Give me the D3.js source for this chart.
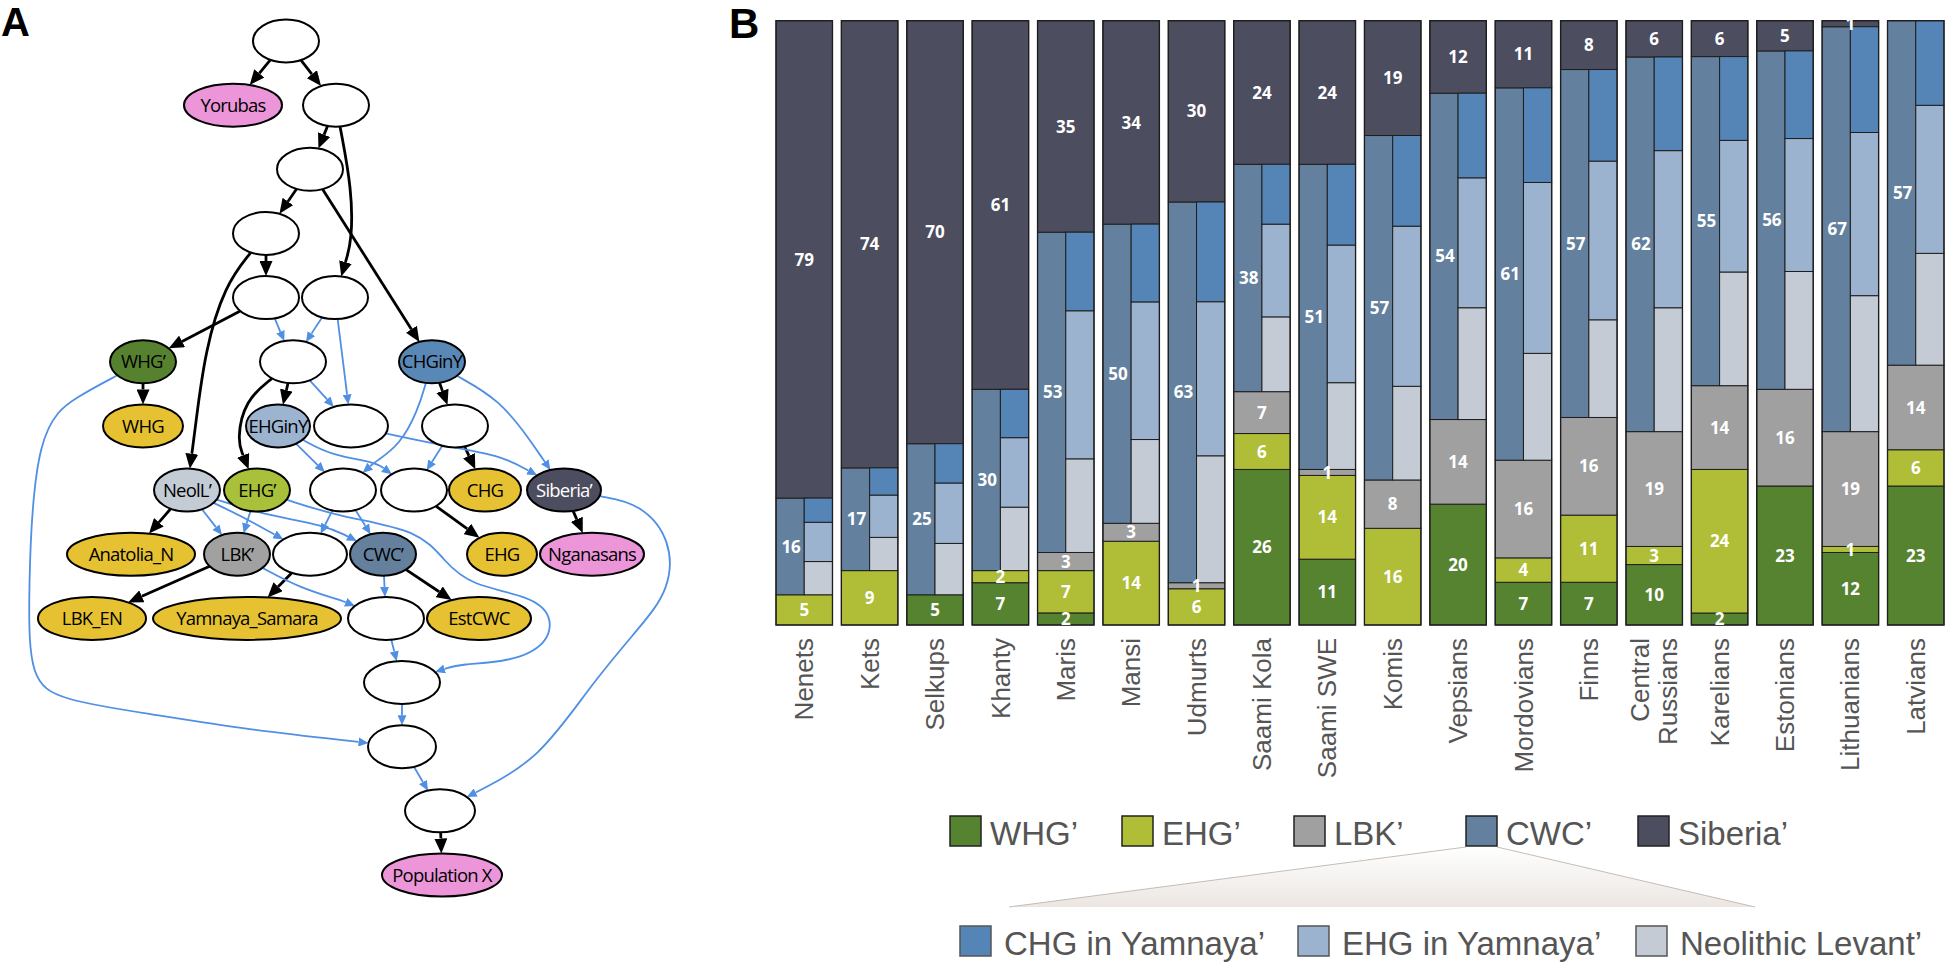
<!DOCTYPE html>
<html>
<head>
<meta charset="utf-8">
<script src="https://cdn.jsdelivr.net/npm/d3@7"></script>
<style>
body { margin: 0; background: #fff; }
</style>
</head>
<body>
<div id="chart"></div>
<script>
var svgWidth = 1945;
var svgHeight = 964;

// ---- Panel B data ----
var populations = ["Nenets", "Kets", "Selkups", "Khanty", "Maris", "Mansi", "Udmurts", "Saami Kola", "Saami SWE",
  "Komis", "Vepsians", "Mordovians", "Finns", "Central Russians", "Karelians", "Estonians", "Lithuanians", "Latvians"];
var tickLabels = ["Nenets", "Kets", "Selkups", "Khanty", "Maris", "Mansi", "Udmurts", "Saami Kola", "Saami SWE",
  "Komis", "Vepsians", "Mordovians", "Finns", "Central\nRussians", "Karelians", "Estonians", "Lithuanians", "Latvians"];
var whg     = [0, 0, 5, 7, 2, 0, 0, 26, 11, 0, 20, 7, 7, 10, 2, 23, 12, 23];
var ehg     = [5, 9, 0, 2, 7, 14, 6, 6, 14, 16, 0, 4, 11, 3, 24, 0, 1, 6];
var lbk     = [0, 0, 0, 0, 3, 3, 1, 7, 1, 8, 14, 16, 16, 19, 14, 16, 19, 14];
var cwc     = [16, 17, 25, 30, 53, 50, 63, 38, 51, 57, 54, 61, 57, 62, 55, 56, 67, 57];
var siberia = [79, 74, 70, 61, 35, 34, 30, 24, 24, 19, 12, 11, 8, 6, 6, 5, 1, 0];
// split of the CWC' share
var chgY = [4, 4.5, 6.5, 8, 13, 13, 16.5, 10, 13.5, 15, 14, 15.5, 15, 15.5, 14, 14.5, 17.5, 14];
var ehgY = [6.5, 7, 10, 11.5, 24.5, 23, 25.5, 15.5, 23, 26.5, 21.5, 28, 26, 26, 22, 22, 27, 24.5];
var neoL = [5.5, 5.5, 8.5, 10.5, 15.5, 14, 21, 12.5, 14.5, 15.5, 18.5, 17.5, 16, 20.5, 19, 19.5, 22.5, 18.5];

var legendMain = ["WHG’", "EHG’", "LBK’", "CWC’", "Siberia’"];
var legendSub = ["CHG in Yamnaya’", "EHG in Yamnaya’", "Neolithic Levant’"];

// ---- Panel A graph ----
// id, label, row, x, kind, half width
var graphNodes = [
  ["t0", "", 0, 286, "blank", 33],
  ["yor", "Yorubas", 1, 233, "pink", 49],
  ["n1", "", 1, 336, "blank", 33],
  ["n2", "", 2, 310, "blank", 33],
  ["n3", "", 3, 266, "blank", 33],
  ["n4", "", 4, 266, "blank", 33],
  ["n5", "", 4, 335, "blank", 33],
  ["whgp", "WHG’", 5, 143, "whg", 33],
  ["n6", "", 5, 293, "blank", 33],
  ["chgy", "CHGinY", 5, 432, "chgy", 33],
  ["whg", "WHG", 6, 143, "yellow", 40],
  ["ehgy", "EHGinY", 6, 278, "ehgy", 32],
  ["n7", "", 6, 351, "blank", 37],
  ["n8", "", 6, 455, "blank", 33],
  ["neol", "NeolL’", 7, 187, "neol", 33],
  ["ehgp", "EHG’", 7, 257, "ehg", 33],
  ["n9", "", 7, 343, "blank", 33],
  ["n10", "", 7, 414, "blank", 33],
  ["chg", "CHG", 7, 485, "yellow", 36],
  ["sib", "Siberia’", 7, 564, "sib", 37],
  ["ana", "Anatolia_N", 8, 131, "yellow", 64],
  ["lbkp", "LBK’", 8, 237, "lbk", 33],
  ["n11", "", 8, 310, "blank", 37],
  ["cwcp", "CWC’", 8, 383, "cwc", 33],
  ["ehg", "EHG", 8, 502, "yellow", 35],
  ["nga", "Nganasans", 8, 592, "pink", 52],
  ["lbken", "LBK_EN", 9, 92, "yellow", 54],
  ["yam", "Yamnaya_Samara", 9, 247, "yellow", 94],
  ["n12", "", 9, 386, "blank", 38],
  ["est", "EstCWC", 9, 479, "yellow", 52],
  ["n13", "", 10, 402, "blank", 38],
  ["n14", "", 11, 402, "blank", 34],
  ["n15", "", 12, 440, "blank", 35],
  ["popx", "Population X", 13, 442, "pink", 60]
];

// from, to, type (d = drift, a = admixture), spline control points
var graphEdges = [
  ["t0", "yor", "d"], ["t0", "n1", "d"], ["n1", "n2", "d"],
  ["n1", "n5", "d", [[352, 190], [352, 240]]],
  ["n2", "n3", "d"], ["n2", "chgy", "d"], ["n3", "n4", "d"],
  ["n3", "neol", "d", [[225, 285], [205, 350], [195, 430]]],
  ["n4", "whgp", "d"], ["whgp", "whg", "d"], ["n6", "ehgy", "d"],
  ["n6", "ehgp", "d", [[245, 400], [237, 440]]],
  ["chgy", "n8", "d"], ["n8", "chg", "d"], ["neol", "ana", "d"], ["n10", "ehg", "d"],
  ["sib", "nga", "d"], ["lbkp", "lbken", "d"], ["n11", "yam", "d"], ["cwcp", "est", "d"],
  ["n15", "popx", "d"],
  ["n4", "n6", "a"], ["n5", "n6", "a"], ["n5", "n7", "a"], ["n6", "n7", "a"],
  ["whgp", "n14", "a", [[80, 395], [35, 425], [28, 600], [30, 680], [60, 700], [150, 714], [250, 730]]],
  ["chgy", "n9", "a", [[418, 410], [400, 445], [375, 462]]],
  ["chgy", "sib", "a", [[500, 400], [530, 440]]],
  ["ehgy", "n9", "a"],
  ["ehgy", "n10", "a", [[330, 455], [375, 462]]],
  ["n7", "sib", "a", [[440, 445], [500, 455]]],
  ["n8", "n10", "a"], ["neol", "lbkp", "a"], ["ehgp", "lbkp", "a"],
  ["neol", "n11", "a", [[245, 518]]],
  ["neol", "cwcp", "a", [[265, 515], [325, 525]]],
  ["n9", "n11", "a"], ["n9", "cwcp", "a"],
  ["ehgp", "n13", "a", [[340, 517], [420, 530], [445, 562], [470, 585], [530, 596], [553, 615], [548, 645], [510, 662], [460, 664]]],
  ["lbkp", "n12", "a", [[300, 588], [340, 600]]],
  ["cwcp", "n12", "a"], ["n12", "n13", "a"], ["n13", "n14", "a"], ["n14", "n15", "a"],
  ["sib", "n15", "a", [[640, 503], [672, 540], [670, 590], [640, 627], [592, 683], [539, 760]]]
];

var nodeFill = {
  blank: "#ffffff", pink: "#ec96d9", yellow: "#e6c232", whg: "#56822f", ehg: "#a9c03a",
  neol: "#c3cbd5", lbk: "#a1a1a1", cwc: "#64809d", chgy: "#5a88b6", ehgy: "#9cb4d0", sib: "#4c4d5e"
};

var svg = d3.select("#chart")
  .append("svg")
  .attr("width", svgWidth)
  .attr("height", svgHeight);

svg.append("rect").attr("width", svgWidth).attr("height", svgHeight).attr("fill", "#fff");

var defs = svg.append("defs");
defs.append("marker")
  .attr("id", "arrowBlack")
  .attr("markerUnits", "userSpaceOnUse")
  .attr("markerWidth", 15).attr("markerHeight", 13)
  .attr("refX", 0).attr("refY", 6.5)
  .attr("orient", "auto")
  .append("path").attr("d", "M0,0 L15,6.5 L0,13 z").attr("fill", "#000");
defs.append("marker")
  .attr("id", "arrowBlue")
  .attr("markerUnits", "userSpaceOnUse")
  .attr("markerWidth", 10).attr("markerHeight", 9)
  .attr("refX", 0).attr("refY", 4.5)
  .attr("orient", "auto")
  .append("path").attr("d", "M0,0 L10,4.5 L0,9 z").attr("fill", "#4f8fe4");

var fanGrad = defs.append("linearGradient")
  .attr("id", "fanGrad")
  .attr("x1", 0).attr("y1", 0).attr("x2", 0).attr("y2", 1);
fanGrad.append("stop").attr("offset", "0%").attr("stop-color", "#ffffff");
fanGrad.append("stop").attr("offset", "100%").attr("stop-color", "#ebe6e1");

// Panel labels
svg.append("text").attr("x", 1).attr("y", 36)
  .attr("font-family", "Liberation Sans, Arial, sans-serif").attr("font-weight", "bold")
  .attr("font-size", 40).text("A");
svg.append("text").attr("x", 729).attr("y", 38)
  .attr("font-family", "Liberation Sans, Arial, sans-serif").attr("font-weight", "bold")
  .attr("font-size", 42).text("B");

// ---------- Panel A ----------
var rowY = d3.scaleLinear().domain([0, 13]).range([41, 875]);
var nodeRy = 21.5;

var nodeById = {};
graphNodes.forEach(function(n) {
  nodeById[n[0]] = { id: n[0], label: n[1], x: n[3], y: rowY(n[2]), kind: n[4], rx: n[5] };
});

function boundary(n, tx, ty) {
  var dx = tx - n.x, dy = ty - n.y;
  var t = 1 / Math.sqrt((dx * dx) / (n.rx * n.rx) + (dy * dy) / (nodeRy * nodeRy));
  return [n.x + dx * t, n.y + dy * t];
}

var edgeLine = d3.line().curve(d3.curveBasis);
var graph = svg.append("g");

graphEdges.forEach(function(e) {
  var s = nodeById[e[0]], t = nodeById[e[1]];
  var via = e[3] || [];
  var first = via.length ? via[0] : [t.x, t.y];
  var last = via.length ? via[via.length - 1] : [s.x, s.y];
  var p0 = boundary(s, first[0], first[1]);
  var p1 = boundary(t, last[0], last[1]);
  var arrowLen = e[2] === "d" ? 15 : 10;
  var prev = via.length ? last : p0;
  var dx = p1[0] - prev[0], dy = p1[1] - prev[1];
  var len = Math.sqrt(dx * dx + dy * dy);
  var pEnd = [p1[0] - dx / len * arrowLen, p1[1] - dy / len * arrowLen];
  var pts = [p0].concat(via).concat([pEnd]);
  graph.append("path")
    .attr("d", edgeLine(pts))
    .attr("fill", "none")
    .attr("stroke", e[2] === "d" ? "#000" : "#4f8fe4")
    .attr("stroke-width", e[2] === "d" ? 2.8 : 1.8)
    .attr("marker-end", e[2] === "d" ? "url(#arrowBlack)" : "url(#arrowBlue)");
});

var nodeG = graph.selectAll("g.node")
  .data(Object.values(nodeById))
  .enter()
  .append("g")
  .attr("class", "node")
  .attr("transform", d => `translate(${d.x}, ${d.y})`);

nodeG.append("ellipse")
  .attr("rx", d => d.rx)
  .attr("ry", nodeRy)
  .attr("fill", d => nodeFill[d.kind])
  .attr("stroke", "#000")
  .attr("stroke-width", 2);

nodeG.append("text")
  .text(d => d.label)
  .attr("text-anchor", "middle")
  .attr("dy", "0.36em")
  .attr("font-family", "Open Sans, sans-serif")
  .attr("font-size", 18.5)
  .attr("letter-spacing", -0.8)
  .attr("fill", d => d.kind === "sib" ? "#fff" : "#000");

// ---------- Panel B ----------
var keys = ["whg", "ehg", "lbk", "cwc", "siberia"];
var barColors = { whg: "#56832f", ehg: "#afbe36", lbk: "#a0a0a0", cwc: "#63809e", siberia: "#4c4d5e" };
var subKeys = ["neoL", "ehgY", "chgY"];
var subColors = { chgY: "#5585b6", ehgY: "#9bb3cf", neoL: "#c5cbd5" };

var table = populations.map(function(p, i) {
  return { pop: p, whg: whg[i], ehg: ehg[i], lbk: lbk[i], cwc: cwc[i], siberia: siberia[i],
    chgY: chgY[i], ehgY: ehgY[i], neoL: neoL[i] };
});

var xScale = d3.scaleBand()
  .domain(populations)
  .range([776, 1944])
  .paddingInner(0.136)
  .paddingOuter(0);

var yScale = d3.scaleLinear()
  .domain([0, 1])
  .range([625, 20.7]);

var series = d3.stack().keys(keys).offset(d3.stackOffsetExpand)(table);
var subSeries = d3.stack().keys(subKeys).offset(d3.stackOffsetExpand)(table);
var bw = xScale.bandwidth();

var bars = svg.append("g");

series.forEach(function(s) {
  var k = s.key;
  bars.append("g")
    .selectAll("rect")
    .data(s.filter(d => d[1] - d[0] > 0))
    .enter()
    .append("rect")
    .attr("x", d => xScale(d.data.pop))
    .attr("y", d => yScale(d[1]))
    .attr("width", k === "cwc" ? bw / 2 : bw)
    .attr("height", d => yScale(d[0]) - yScale(d[1]))
    .attr("fill", barColors[k])
    .attr("stroke", "#1e1e1e")
    .attr("stroke-width", 1);
});

// CWC' split drawn in the right half of its segment
var cwcSeries = series[keys.indexOf("cwc")];
subSeries.forEach(function(s) {
  bars.append("g")
    .selectAll("rect")
    .data(s)
    .enter()
    .append("rect")
    .attr("x", d => xScale(d.data.pop) + bw / 2)
    .attr("y", function(d, i) {
      var c = cwcSeries[i];
      return yScale(c[0] + d[1] * (c[1] - c[0]));
    })
    .attr("width", bw / 2)
    .attr("height", function(d, i) {
      var c = cwcSeries[i];
      return yScale(c[0] + d[0] * (c[1] - c[0])) - yScale(c[0] + d[1] * (c[1] - c[0]));
    })
    .attr("fill", subColors[s.key])
    .attr("stroke", "#1e1e1e")
    .attr("stroke-width", 1);
});

// bar outlines
bars.append("g")
  .selectAll("rect")
  .data(populations)
  .enter()
  .append("rect")
  .attr("x", d => xScale(d))
  .attr("y", yScale(1))
  .attr("width", bw)
  .attr("height", yScale(0) - yScale(1))
  .attr("fill", "none")
  .attr("stroke", "#1e1e1e")
  .attr("stroke-width", 1.3);

// value labels
series.forEach(function(s) {
  var k = s.key;
  bars.append("g")
    .selectAll("text")
    .data(s.filter(d => d.data[k] > 0))
    .enter()
    .append("text")
    .text(d => d.data[k])
    .attr("x", d => xScale(d.data.pop) + (k === "cwc" ? bw / 4 + 1 : bw / 2))
    .attr("y", d => yScale((d[0] + d[1]) / 2))
    .attr("dy", "0.36em")
    .attr("text-anchor", "middle")
    .attr("font-family", "Open Sans, sans-serif")
    .attr("font-weight", "bold")
    .attr("font-size", 17)
    .attr("fill", "#fff");
});

// x axis labels (rotated)
var xAxis = d3.axisBottom(xScale)
  .tickSize(0)
  .tickFormat((d, i) => tickLabels[i]);

var axisG = svg.append("g")
  .attr("transform", "translate(0, 638)")
  .call(xAxis);
axisG.select(".domain").remove();
axisG.selectAll("text")
  .attr("transform", "rotate(-90)")
  .attr("x", 0)
  .attr("y", 0)
  .attr("dy", null)
  .attr("text-anchor", "end")
  .attr("font-family", "Liberation Sans, Arial, sans-serif")
  .attr("font-size", 26)
  .attr("fill", "#555")
  .each(function(d, i) {
    var lines = tickLabels[i].split("\n");
    var t = d3.select(this).text(null);
    lines.forEach(function(line, j) {
      t.append("tspan")
        .attr("x", 0)
        .attr("dy", j === 0 ? (0.35 - (lines.length - 1) * 0.54) + "em" : "1.08em")
        .text(line);
    });
  });

// ---------- Legend ----------
var legendColors = [barColors.whg, barColors.ehg, barColors.lbk, barColors.cwc, barColors.siberia];
var subLegendColors = [subColors.chgY, subColors.ehgY, subColors.neoL];
var legX = d3.scaleLinear().domain([0, 1]).range([950, 1122]);
var subX = d3.scaleLinear().domain([0, 1]).range([960, 1298]);

// fan from the CWC' swatch
var cwcLeft = legX(3);
svg.append("path")
  .attr("d", `M${cwcLeft},847 L${cwcLeft + 31},847 L1755,907 L1009,907 Z`)
  .attr("fill", "url(#fanGrad)");
svg.append("path")
  .attr("d", `M${cwcLeft},847 L1009,907 M${cwcLeft + 31},847 L1755,907`)
  .attr("fill", "none")
  .attr("stroke", "#c4bdb6")
  .attr("stroke-width", 1);

var leg = svg.append("g")
  .selectAll("g")
  .data(legendMain)
  .enter()
  .append("g")
  .attr("transform", (d, i) => `translate(${legX(i)}, 816)`);
leg.append("rect")
  .attr("width", 31).attr("height", 30)
  .attr("fill", (d, i) => legendColors[i])
  .attr("stroke", "#222").attr("stroke-width", 1.5);
leg.append("text")
  .attr("x", 40).attr("y", 29)
  .attr("font-family", "Liberation Sans, Arial, sans-serif")
  .attr("font-size", 33)
  .attr("fill", "#555")
  .text(d => d);

var subLeg = svg.append("g")
  .selectAll("g")
  .data(legendSub)
  .enter()
  .append("g")
  .attr("transform", (d, i) => `translate(${subX(i)}, 926)`);
subLeg.append("rect")
  .attr("width", 31).attr("height", 30)
  .attr("fill", (d, i) => subLegendColors[i])
  .attr("stroke", "#555").attr("stroke-width", 1.5);
subLeg.append("text")
  .attr("x", 44).attr("y", 29)
  .attr("font-family", "Liberation Sans, Arial, sans-serif")
  .attr("font-size", 33)
  .attr("fill", "#555")
  .text(d => d);
</script>
</body>
</html>
